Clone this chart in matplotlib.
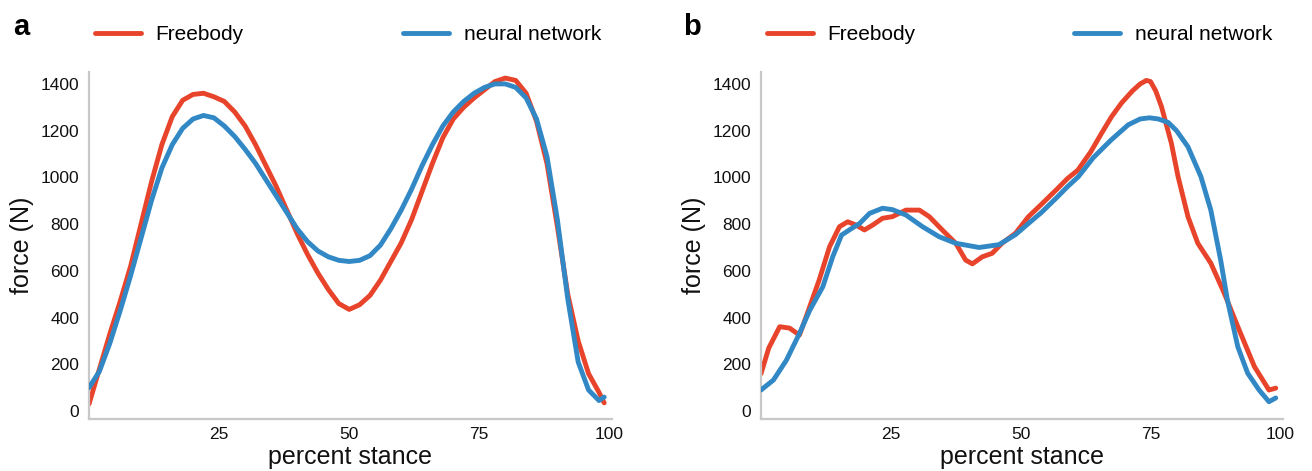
import matplotlib.pyplot as plt

plt.rcParams['font.family'] = ['Liberation Sans', 'DejaVu Sans']

# panel a
a_free_x = [0, 2, 4, 6, 8, 10, 12, 14, 16, 18, 20, 22, 24, 26, 28, 30, 32, 34, 36, 38, 40,
            42, 44, 46, 48, 50, 52, 54, 56, 58, 60, 62, 64, 66, 68, 70, 72, 74, 76, 78, 80,
            82, 84, 86, 88, 90, 92, 94, 96, 98, 99]
a_free_y = [30, 180, 330, 470, 620, 800, 980, 1140, 1260, 1330, 1355, 1360, 1345, 1325, 1280,
            1220, 1140, 1050, 960, 860, 760, 670, 590, 520, 460, 435, 455, 495, 560, 640, 720,
            820, 940, 1060, 1170, 1250, 1300, 1340, 1375, 1410, 1425, 1415, 1360, 1240, 1060,
            790, 500, 300, 160, 80, 35]
a_nn_x = [0, 2, 4, 6, 8, 10, 12, 14, 16, 18, 20, 22, 24, 26, 28, 30, 32, 34, 36, 38, 40,
          42, 44, 46, 48, 50, 52, 54, 56, 58, 60, 62, 64, 66, 68, 70, 72, 74, 76, 78, 80,
          82, 84, 86, 88, 90, 92, 94, 96, 98, 99]
a_nn_y = [100, 170, 290, 430, 580, 740, 900, 1040, 1140, 1210, 1250, 1265, 1255, 1220, 1175,
          1120, 1060, 990, 920, 850, 780, 725, 685, 660, 645, 640, 645, 665, 710, 780, 860,
          950, 1050, 1140, 1220, 1280, 1325, 1360, 1385, 1400, 1400, 1385, 1340, 1250, 1090,
          820, 480, 210, 90, 45, 60]

# panel b
b_free_x = [0, 1.5, 3.6, 5.5, 7.4, 8.7, 11.2, 13.2, 15.1, 16.7, 18.3, 19.9, 21.5, 23.4, 25.3,
            27.9, 30.5, 32.4, 34.9, 37.5, 39.4, 40.7, 42.6, 44.5, 46.4, 49, 51.5, 54, 57, 59,
            61, 63.5, 65.6, 67.5, 69.4, 71.5, 73, 74.2, 75, 76, 77.1, 79, 80.3, 82.2, 84.1,
            86.6, 89.2, 91.8, 95, 97.8, 99.1]
b_free_y = [160, 270, 361, 355, 325, 404, 561, 703, 789, 810, 796, 775, 796, 825, 832, 860,
            860, 832, 775, 718, 646, 630, 660, 675, 718, 761, 832, 885, 950, 995, 1031, 1110,
            1190, 1260, 1318, 1370, 1400, 1415, 1410, 1370, 1303, 1147, 1003, 832, 718, 633,
            504, 361, 190, 90, 98]
b_nn_x = [0, 2.4, 4.9, 7.4, 9.4, 11.9, 13.8, 15.5, 17, 19, 20.9, 23.4, 25.3, 27.9, 31.1,
          34.3, 37.5, 42, 45.8, 49, 51.5, 54, 57, 59, 61.1, 64, 67.4, 70.7, 73, 74.8, 76.5,
          78.4, 80, 82.2, 84.7, 86.6, 88.5, 89.8, 91.8, 93.7, 95.9, 97.8, 99.1]
b_nn_y = [90, 133, 218, 332, 432, 532, 660, 753, 775, 803, 846, 868, 862, 839, 789, 746, 718,
          700, 712, 755, 803, 850, 915, 960, 1003, 1085, 1160, 1225, 1250, 1255, 1250, 1235,
          1200, 1131, 1003, 860, 646, 475, 275, 162, 90, 40, 56]

x_ticks = [25, 50, 75, 100]
y_ticks = [0, 200, 400, 600, 800, 1000, 1200, 1400]

red = '#e8442b'
blue = '#3188c5'
spine_gray = '#c8c8c8'

fig = plt.figure(figsize=(13.12, 4.71), dpi=100)
ax_a = fig.add_axes([89 / 1312, 1 - 419 / 471, 523 / 1312, 347 / 471])
ax_b = fig.add_axes([761 / 1312, 1 - 419 / 471, 522 / 1312, 347 / 471])

panels = [(ax_a, a_free_x, a_free_y, a_nn_x, a_nn_y, 'a', 13),
          (ax_b, b_free_x, b_free_y, b_nn_x, b_nn_y, 'b', 683)]

for ax, fx, fy, nx, ny, letter, letter_x in panels:
    ax.plot(fx, fy, color=red, lw=3.5, solid_capstyle='round', solid_joinstyle='round',
            label='Freebody', zorder=2)
    ax.plot(nx, ny, color=blue, lw=3.5, solid_capstyle='round', solid_joinstyle='round',
            label='neural network', zorder=3)

    ax.set_xlim(0, 100.5)
    ax.set_ylim(-34, 1451)
    ax.set_xticks(x_ticks)
    ax.set_yticks(y_ticks)
    ax.tick_params(length=0, labelsize=12.5, colors='#111111')
    ax.tick_params(axis='x', pad=6)
    ax.tick_params(axis='y', pad=7)

    for side in ['top', 'right']:
        ax.spines[side].set_visible(False)
    for side in ['left', 'bottom']:
        ax.spines[side].set_color(spine_gray)
        ax.spines[side].set_linewidth(1.6)

    ax.set_xlabel('percent stance', fontsize=18, labelpad=2, color='#111111')
    ax.set_ylabel('force (N)', fontsize=18, labelpad=5, color='#111111')

    ax.legend(loc='center', bbox_to_anchor=(0.0115, 1.107, 0.9675, 0.0), mode='expand',
              ncol=2, frameon=False, fontsize=15, handlelength=2.2, handletextpad=0.7,
              borderpad=0, borderaxespad=0)

    fig.text(letter_x / 1312, 1 - 35 / 471, letter, fontsize=21, fontweight='bold',
             va='baseline', ha='left')

plt.savefig('out.png', dpi=100)
